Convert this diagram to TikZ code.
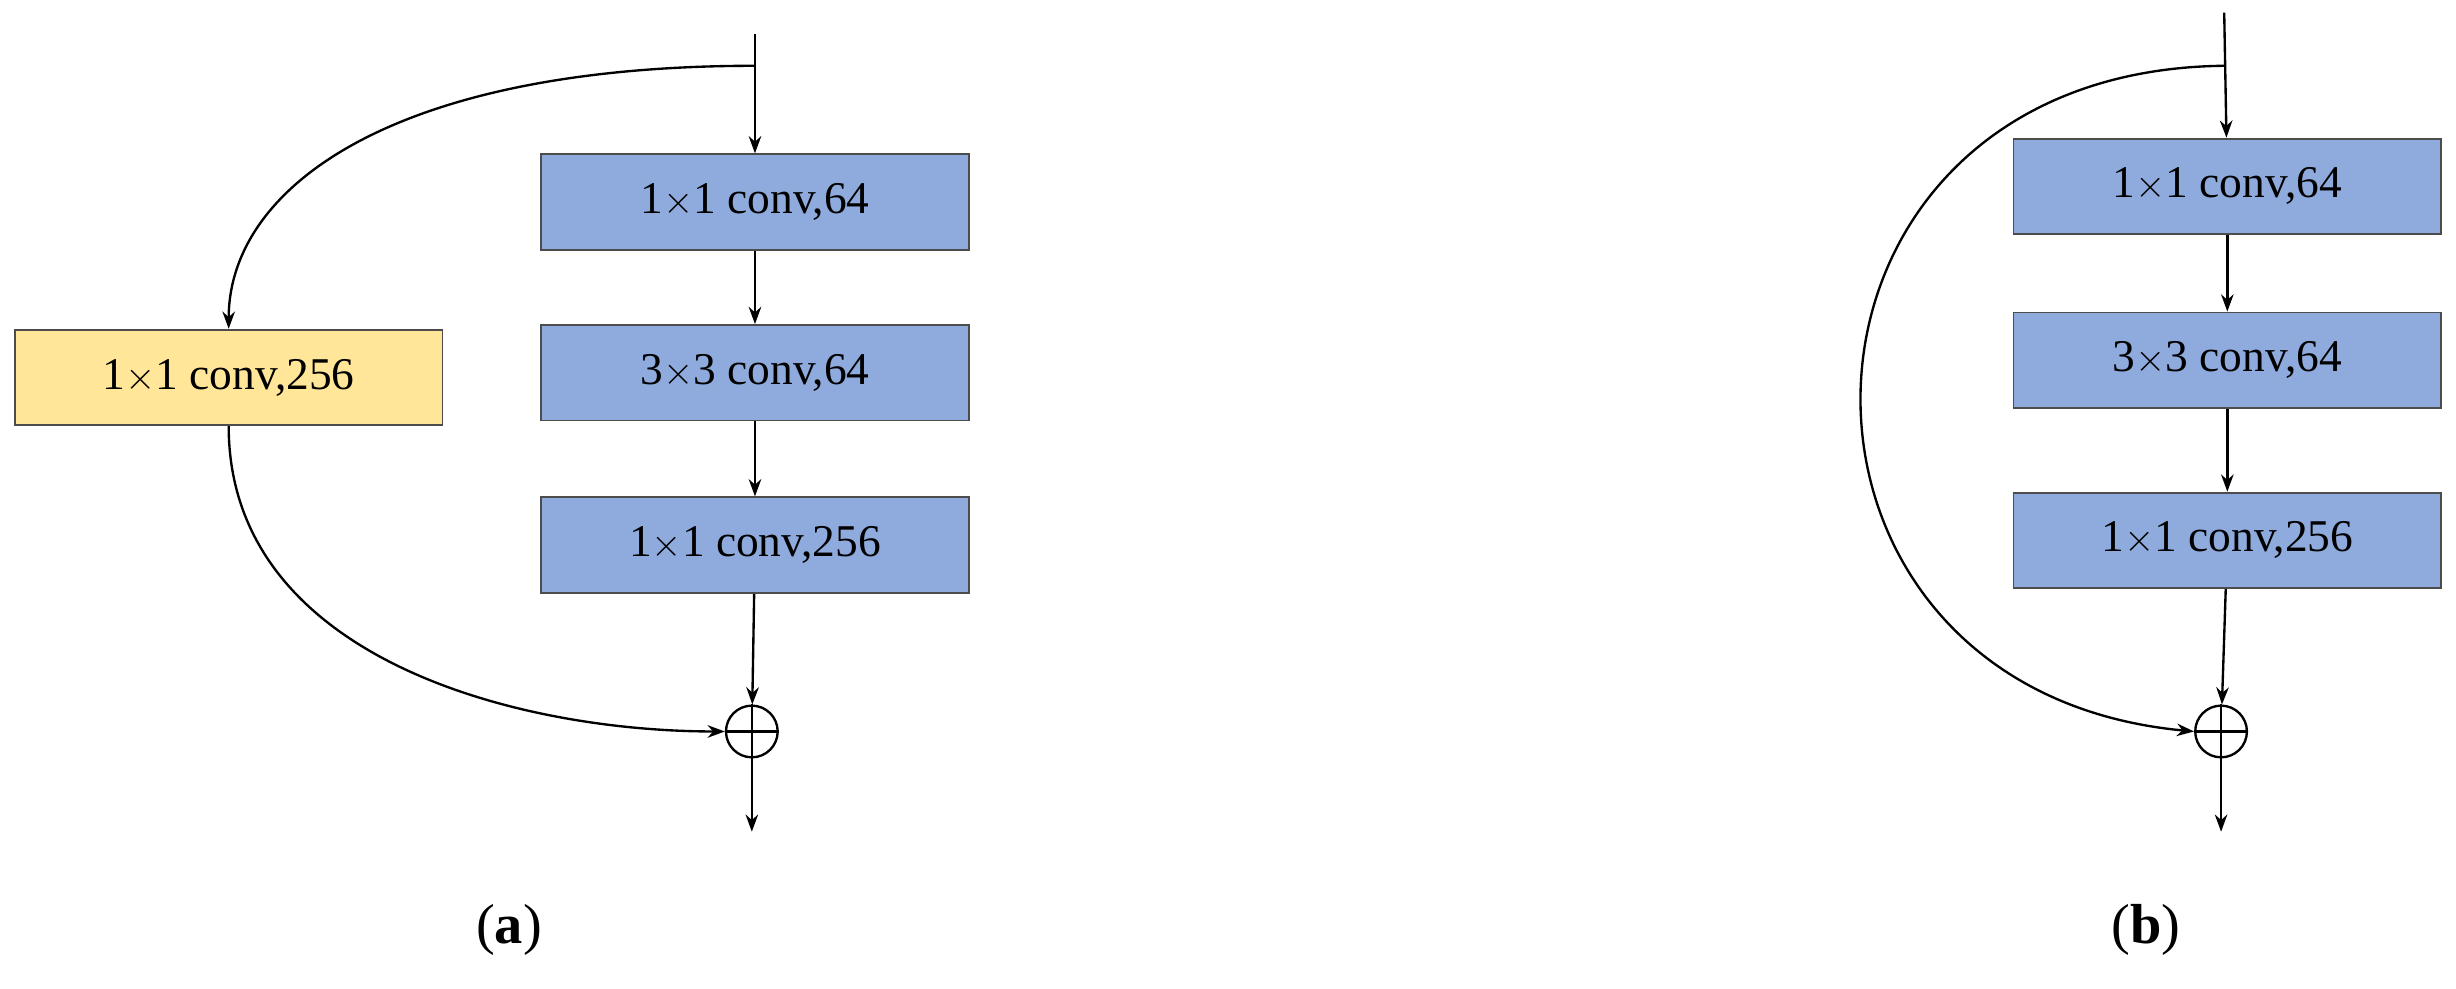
\documentclass[tikz,border=0pt]{standalone}
\usepackage{fontspec}
\setmainfont{Liberation Serif}
\usetikzlibrary{arrows.meta}
\definecolor{bfill}{RGB}{143,170,220}
\definecolor{yfill}{RGB}{255,230,153}
\begin{document}
\begin{tikzpicture}[x=1pt,y=-1pt,
  box/.style={draw=black!70,line width=1.2pt,minimum width=273pt,minimum height=61pt,inner sep=0pt,font=\fontsize{29}{30}\selectfont},
  bbox/.style={box,fill=bfill},
  ybox/.style={box,fill=yfill},
  conn/.style={line width=1.5pt,-{Stealth[length=11pt,width=8pt]}},
  plus/.style={circle,draw,line width=1.5pt,minimum size=33pt,inner sep=0pt}]
\useasboundingbox (0,0) rectangle (1568,631);
% (a)
\coordinate (at) at (482,22);
\coordinate (ab) at (482,42);
\node[bbox] (a1) at (482,129) {1$\times$1 conv,64};
\node[bbox] (a2) at (482,238) {3$\times$3 conv,64};
\node[bbox] (a3) at (482,348) {1$\times$1 conv,256};
\node[ybox] (ay) at (146,241) {1$\times$1 conv,256};
\node[plus] (ap) at (480,467) {};
\draw[line width=1.5pt] (ap.north)--(ap.south) (ap.west)--(ap.east);
\coordinate (ae) at (480,531);
\draw[conn] (at)--(a1);
\draw[conn] (a1)--(a2);
\draw[conn] (a2)--(a3);
\draw[conn] (a3)--(ap);
\draw[conn] (ap)--(ae);
\draw[conn] (ab) .. controls (250,42) and (146,120) .. (ay.north);
\draw[conn] (ay.south) .. controls (146,420) and (330,467) .. (ap.west);
\node[font=\fontsize{36}{38}\selectfont] (la) at (325,594) {(\textbf{a})};
% (b)
\coordinate (bt) at (1420,8);
\coordinate (bb) at (1420,42);
\node[bbox] (b1) at (1422,119) {1$\times$1 conv,64};
\node[bbox] (b2) at (1422,230) {3$\times$3 conv,64};
\node[bbox] (b3) at (1422,345) {1$\times$1 conv,256};
\node[plus] (bp) at (1418,467) {};
\draw[line width=1.5pt] (bp.north)--(bp.south) (bp.west)--(bp.east);
\coordinate (be) at (1418,531);
\draw[conn] (bt)--(b1);
\draw[conn] (b1)--(b2);
\draw[conn] (b2)--(b3);
\draw[conn] (b3)--(bp);
\draw[conn] (bp)--(be);
\draw[conn] (bb) .. controls (1120,45) and (1110,440) .. (bp.west);
\node[font=\fontsize{36}{38}\selectfont] (lb) at (1370,594) {(\textbf{b})};
\end{tikzpicture}
\end{document}
